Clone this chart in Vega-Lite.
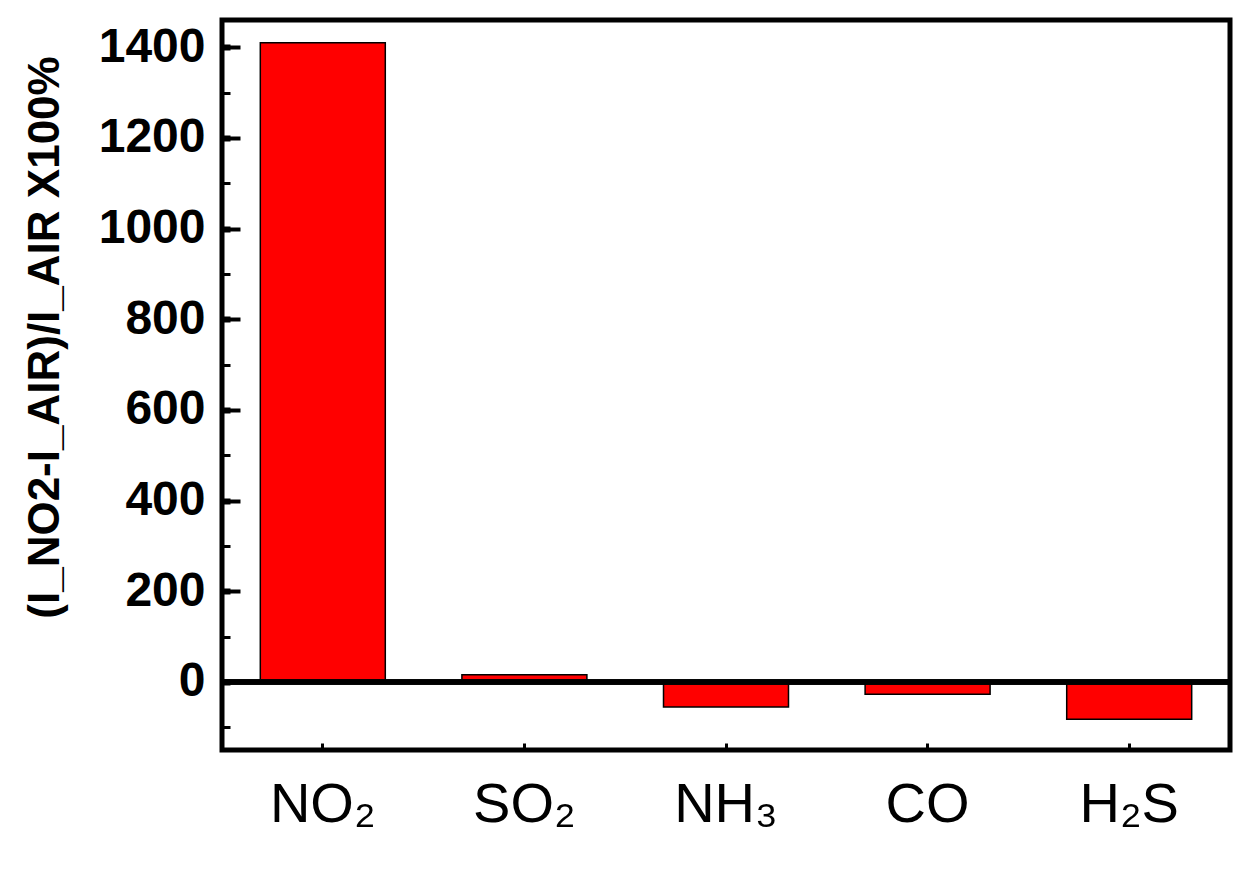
{
  "$schema": "https://vega.github.io/schema/vega-lite/v6.json",
  "width": 1008,
  "height": 730,
  "autosize": {"type": "none"},
  "padding": {"left": 222, "top": 20, "right": 21, "bottom": 120},
  "background": "white",
  "config": {
    "view": {"stroke": "black", "strokeWidth": 5},
    "font": "Liberation Sans"
  },
  "data": {
    "values": [
      {"gas": "NO₂", "value": 1410},
      {"gas": "SO₂", "value": 16},
      {"gas": "NH₃", "value": -55},
      {"gas": "CO", "value": -27},
      {"gas": "H₂S", "value": -82}
    ]
  },
  "layer": [
    {
      "mark": {"type": "bar", "color": "#ff0000", "stroke": "black", "strokeWidth": 1.5},
      "encoding": {
        "x": {
          "field": "gas",
          "type": "nominal",
          "sort": null,
          "scale": {"paddingInner": 0.38, "paddingOuter": 0.19},
          "axis": {
            "title": null,
            "labelAngle": 0,
            "labelFontSize": 56,
            "labelColor": "black",
            "labelPadding": 34,
            "ticks": true,
            "tickSize": -7,
            "tickWidth": 3,
            "tickColor": "black",
            "domain": false,
            "grid": false
          }
        },
        "y": {
          "field": "value",
          "type": "quantitative",
          "scale": {"domain": [-150, 1460], "nice": false, "zero": false},
          "axis": {
            "values": [-100, 0, 100, 200, 300, 400, 500, 600, 700, 800, 900, 1000, 1100, 1200, 1300, 1400],
            "labelExpr": "datum.value % 200 === 0 && datum.value >= 0 ? datum.label : ''",
            "format": "d",
            "title": "(I_NO2-I_AIR)/I_AIR X100%",
            "titleFontSize": 44,
            "titleFontWeight": "bold",
            "titleColor": "black",
            "titleAngle": -90,
            "titleBaseline": "middle",
            "titleAlign": "center",
            "titleX": -177,
            "titleY": 317,
            "labelFontSize": 48,
            "labelFontWeight": "bold",
            "labelColor": "black",
            "labelPadding": 25,
            "labelOverlap": false,
            "ticks": true,
            "tickSize": -8,
            "tickWidth": {"condition": {"test": "datum.value % 200 === 0", "value": 6}, "value": 3},
            "tickColor": "black",
            "domain": false,
            "grid": true,
            "gridColor": "black",
            "gridWidth": 4,
            "gridDash": [18, 3000],
            "gridOpacity": {"condition": {"test": "datum.value % 200 === 0 && datum.value > 0", "value": 1}, "value": 0}
          }
        }
      }
    },
    {
      "mark": {"type": "rule", "strokeWidth": 5, "color": "black"},
      "encoding": {
        "y": {"datum": 0, "type": "quantitative"}
      }
    }
  ]
}
